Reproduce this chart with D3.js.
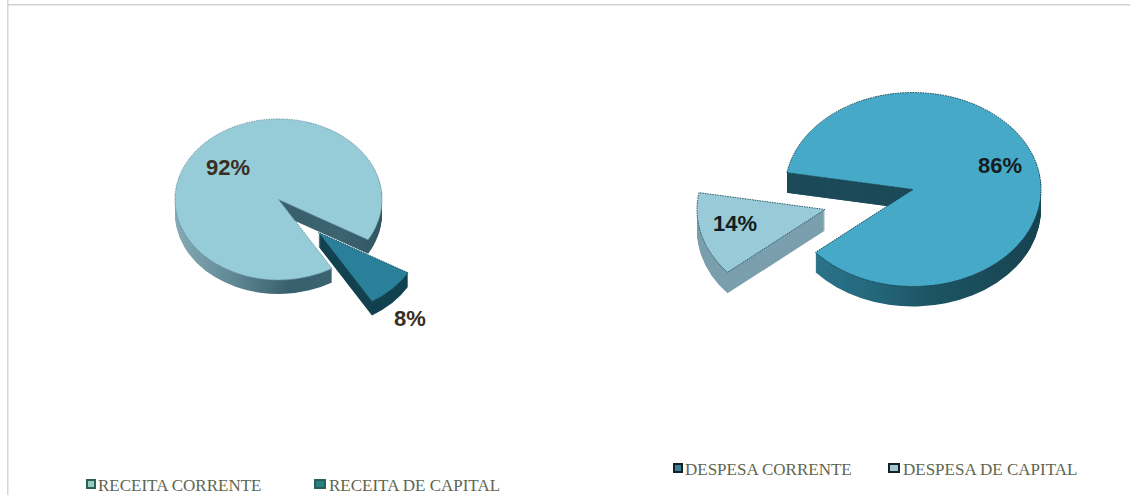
<!DOCTYPE html>
<html><head><meta charset="utf-8">
<script src="https://cdn.jsdelivr.net/npm/d3@7"></script>
<style>html,body{margin:0;padding:0;background:#fff;overflow:hidden}svg{display:block}</style>
</head><body><svg id="c" width="1130" height="495"></svg>
<script>
const leftCategories=["RECEITA CORRENTE","RECEITA DE CAPITAL"];
const leftValues=[92,8];
const rightCategories=["DESPESA CORRENTE","DESPESA DE CAPITAL"];
const rightValues=[86,14];
const svg=d3.select("#c");
const defs=svg.append("defs");
function grad(id,stops){
  const g=defs.append("linearGradient").attr("id",id);
  stops.forEach(s=>g.append("stop").attr("offset",s[0]).attr("stop-color",s[1]));
}
grad("wallL",[[0,"#86abb6"],[.3,"#5d8592"],[.55,"#38606c"],[.8,"#3c6470"],[1,"#2f5561"]]);
grad("wallR",[[0,"#1f4e5c"],[.12,"#2a7288"],[.3,"#256a7f"],[.55,"#1d5565"],[1,"#17424f"]]);
svg.append("rect").attr("x",7).attr("y",0).attr("width",1.5).attr("height",495).attr("fill","#d4d6da");
svg.append("rect").attr("x",7).attr("y",4).attr("width",1123).attr("height",1.5).attr("fill","#cfd1d5");

function pie3d(o){
  const pie=d3.pie().sort(null).startAngle(o.start).endAngle(o.start+2*Math.PI);
  const arcs=pie(o.values);
  const arc=d3.arc().innerRadius(0).outerRadius(o.rx);
  arcs.forEach((a,i)=>{
    const s=o.styles[i];
    const g=svg.append("g").attr("transform",`translate(${o.cx+s.dx},${o.cy+s.dy})`);
    const layers=(fill)=>g.append("g").selectAll("path").data(d3.range(s.depth,0,-1)).join("path")
      .attr("transform",d=>`translate(0,${d}) scale(1,${o.ry/o.rx})`)
      .attr("d",arc(a)).attr("fill",fill);
    layers(s.wall);
    if(s.innerWall){
      const id="clip"+o.id+i;
      defs.append("clipPath").attr("id",id).append("rect")
        .attr("x",-o.rx-2).attr("y",-o.ry-2).attr("width",2*o.rx+4).attr("height",o.ry+s.depth+3);
      g.append("g").attr("clip-path",`url(#${id})`).call(c=>{
        c.selectAll("path").data(d3.range(s.depth,0,-1)).join("path")
          .attr("transform",d=>`translate(0,${d}) scale(1,${o.ry/o.rx})`)
          .attr("d",arc(a)).attr("fill",s.innerWall);
      });
    }
    g.append("path").attr("transform",`scale(1,${o.ry/o.rx})`).attr("d",arc(a)).attr("fill",s.top);
    g.append("path").attr("transform",`scale(1,${o.ry/o.rx})`).attr("d",arc(a))
      .attr("fill","none").attr("stroke",s.edge).attr("stroke-width",1)
      .attr("stroke-dasharray","1.5 1").attr("vector-effect","non-scaling-stroke");
  });
}
pie3d({id:"L",cx:278.5,cy:199.5,rx:103.5,ry:80.5,start:Math.PI*(134.5+14.4)/180,values:leftValues,styles:[
  {dx:0,dy:0,depth:14,top:"#96cbd8",wall:"url(#wallL)",edge:"#6f97a3"},
  {dx:40,dy:33,depth:14,top:"#2a8099",wall:"#12414f",edge:"#174f60"}]});
pie3d({id:"R",cx:913,cy:189.5,rx:128,ry:97,start:Math.PI*280/180,values:rightValues,styles:[
  {dx:0,dy:0,depth:20,top:"#45a9c7",wall:"url(#wallR)",innerWall:"#1c4a58",edge:"#1a4350"},
  {dx:-88,dy:20,depth:21,top:"#98cad8",wall:"#7b9fad",edge:"#2f5a68"}]});

const labels=[
 {t:leftValues[0]+"%",x:228,y:175,c:"#3a2e20"},
 {t:leftValues[1]+"%",x:410,y:326,c:"#3a2e20"},
 {t:rightValues[1]+"%",x:735,y:231,c:"#141d22"},
 {t:rightValues[0]+"%",x:1000,y:173,c:"#141d22"}];
svg.selectAll("text.pct").data(labels).join("text").attr("class","pct")
  .attr("x",d=>d.x).attr("y",d=>d.y).attr("text-anchor","middle")
  .attr("font-family","'Liberation Sans',sans-serif").attr("font-weight","bold").attr("font-size",22)
  .attr("fill",d=>d.c).text(d=>d.t);

const legend=[
 {t:leftCategories[0],x:86,y:490,fill:"#96cbc4",stroke:"#2f6150"},
 {t:leftCategories[1],x:314,y:490,fill:"#2a7f80",stroke:"#27605c"},
 {t:rightCategories[0],x:673,y:474,fill:"#3d7f92",stroke:"#10222a"},
 {t:rightCategories[1],x:888,y:474,fill:"#a2c4cc",stroke:"#10222a"}];
const lg=svg.selectAll("g.lg").data(legend).join("g").attr("class","lg");
lg.append("rect").attr("x",d=>d.x+1).attr("y",d=>d.y-10).attr("width",d=>d.t.includes("CAPITAL")?10:8).attr("height",8)
  .attr("fill",d=>d.fill).attr("stroke",d=>d.stroke).attr("stroke-width",2);
lg.append("text").attr("x",d=>d.x+(d.t.includes("CAPITAL")?15:12)).attr("y",d=>d.y+0.5)
  .attr("font-family","'Liberation Serif',serif").attr("font-size",17).attr("fill","#5e664f").text(d=>d.t);
</script></body></html>
